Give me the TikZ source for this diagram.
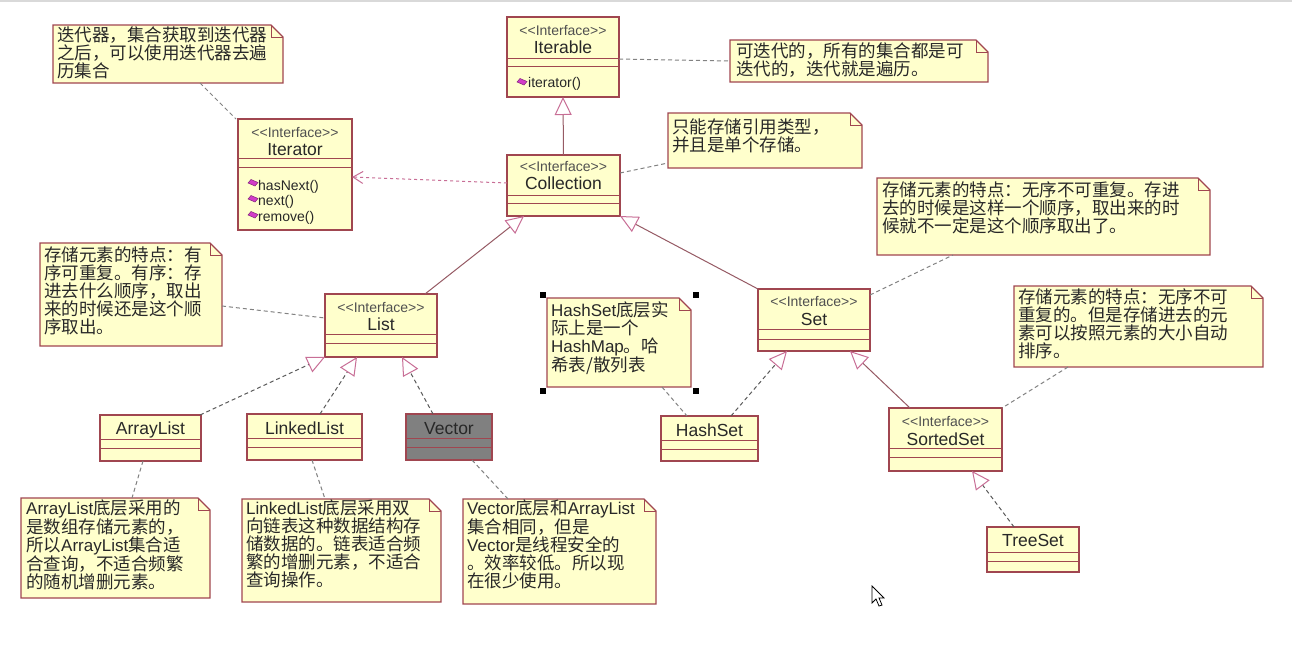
\documentclass[tikz,border=0pt]{standalone}
\usepackage{fontspec}
\setmainfont{Liberation Sans}
\newfontfamily\cjkf{Noto Sans CJK SC}
\usetikzlibrary{arrows.meta,fit,calc}
\definecolor{boxfill}{RGB}{255,255,204}
\definecolor{boxline}{RGB}{160,70,80}
\definecolor{genline}{RGB}{150,90,100}
\definecolor{tipcol}{RGB}{200,110,150}
\definecolor{realline}{RGB}{90,90,90}
\definecolor{noteline}{RGB}{130,130,130}
\definecolor{txt}{RGB}{40,40,40}
\definecolor{stereocol}{RGB}{80,80,80}
\definecolor{vecfill}{RGB}{128,128,128}
\definecolor{opiconcol}{RGB}{210,60,200}
\newcommand\latn[1]{{\rmfamily\fontsize{17}{18}\selectfont #1}}
\newcommand\fstrut{\rule{0pt}{16pt}}
\newcommand\stereotxt{<\kern0pt<Interface>\kern0pt>}
\tikzset{
  cls/.style={draw=boxline, fill=boxfill, line width=1.2pt, inner sep=0pt, outer sep=0pt, anchor=north west},
  sepline/.style={draw=boxline, line width=1pt},
  stereo/.style={font=\fontsize{14}{14}\selectfont, text=stereocol, anchor=base, inner sep=0pt},
  cname/.style={font=\fontsize{17.5}{18}\selectfont, text=txt, anchor=base, inner sep=0pt},
  optext/.style={font=\fontsize{14}{14}\selectfont, text=txt, anchor=base west, inner sep=0pt},
  notetext/.style={font=\cjkf\fontsize{17.5}{18}\selectfont, text=txt, align=left, anchor=north west, inner sep=0pt},
  noteshape/.style={draw=boxline, fill=boxfill, line width=1.1pt},
  notelink/.style={draw=noteline, line width=1pt, dash pattern=on 4pt off 3pt},
  gen/.style={draw=genline, line width=1pt, -{Triangle[open, length=18pt, width=17pt, color=tipcol, line width=1pt]}},
  real/.style={draw=realline, line width=1pt, dash pattern=on 4pt off 3pt, -{Triangle[open, length=18pt, width=17pt, color=tipcol, line width=1pt]}},
  dep/.style={draw=tipcol, line width=1pt, dash pattern=on 3pt off 3pt, -{Straight Barb[length=10pt, width=12pt]}},
}
\newcommand\umlbox[6][boxfill]{%
  \node[cls, fill=#1, minimum width=#5pt, minimum height=#6pt] (#2) at (#3,#4) {};}
\newcommand\seps[3]{%
  \draw[sepline] ([yshift=-#2pt]#1.north west) -- ([yshift=-#2pt]#1.north east);
  \draw[sepline] ([yshift=-#3pt]#1.north west) -- ([yshift=-#3pt]#1.north east);}
\newcommand\umlnote[5]{%
  \node[fit={(#2,#3) (#4,#5)}, inner sep=0pt, outer sep=0pt] (#1) {};
  \path[noteshape] (#1.north west) -- ([xshift=-12pt]#1.north east) -- ([yshift=-12pt]#1.north east) -- (#1.south east) -- (#1.south west) -- cycle;
  \draw[draw=boxline, line width=1pt] ([xshift=-12pt]#1.north east) -- ([xshift=-12pt,yshift=-12pt]#1.north east) -- ([yshift=-12pt]#1.north east);}
\newcommand\opicon[2]{%
  \filldraw[fill=opiconcol, draw=opiconcol!60!black, line width=0.5pt] (#1,#2) -- ++(3,-3.5) -- ++(7,3) -- ++(-3,3.5) -- cycle;}
\begin{document}
\begin{tikzpicture}[x=1pt, y=-1pt]
\useasboundingbox (0,0) rectangle (1292,646);
\fill[white] (0,0) rectangle (1292,646);
\draw[black!15, line width=1.5pt] (0,1) -- (1292,1);

% ---------- notes ----------
\umlnote{iternote}{53}{25}{283}{83}
\node[notetext] (iternote-t) at (57,25) {\fstrut 迭代器，集合获取到迭代器\\之后，可以使用迭代器去遍\\历集合};
\umlnote{iterablenote}{730}{40}{988}{82}
\node[notetext] (iterablenote-t) at (736,41) {\fstrut 可迭代的，所有的集合都是可\\迭代的，迭代就是遍历。};
\umlnote{collnote}{668}{113}{862}{168}
\node[notetext] (collnote-t) at (672,117) {\fstrut 只能存储引用类型，\\并且是单个存储。};
\umlnote{listnote}{40}{243}{222}{346}
\node[notetext] (listnote-t) at (44,245) {\fstrut 存储元素的特点：有\\序可重复。有序：存\\进去什么顺序，取出\\来的时候还是这个顺\\序取出。};
\umlnote{setnote}{877}{178}{1210}{255}
\node[notetext] (setnote-t) at (882,180) {\fstrut 存储元素的特点：无序不可重复。存进\\去的时候是这样一个顺序，取出来的时\\候就不一定是这个顺序取出了。};
\umlnote{sortednote}{1014}{286}{1263}{367}
\node[notetext] (sortednote-t) at (1018,287) {\fstrut 存储元素的特点：无序不可\\重复的。但是存储进去的元\\素可以按照元素的大小自动\\排序。};
\umlnote{hashnote}{547}{298}{691}{387}
\node[notetext] (hashnote-t) at (551,300) {\fstrut\latn{HashSet}底层实\\际上是一个\\\latn{HashMap}。哈\\希表/散列表};
\umlnote{arraynote}{21}{498}{210}{598}
\node[notetext] (arraynote-t) at (26,498) {\fstrut\latn{ArrayList}底层采用的\\是数组存储元素的，\\所以\latn{ArrayList}集合适\\合查询，不适合频繁\\的随机增删元素。};
\umlnote{linkednote}{242}{499}{441}{602}
\node[notetext] (linkednote-t) at (246,498) {\fstrut\latn{LinkedList}底层采用双\\向链表这种数据结构存\\储数据的。链表适合频\\繁的增删元素，不适合\\查询操作。};
\umlnote{vectornote}{463}{499}{656}{604}
\node[notetext] (vectornote-t) at (467,498) {\fstrut\latn{Vector}底层和\latn{ArrayList}\\集合相同，但是\\\latn{Vector}是线程安全的\\。效率较低。所以现\\在很少使用。};

% selection handles
\fill[black] (540,292) rectangle (546,298);
\fill[black] (693,292) rectangle (699,298);
\fill[black] (540,388) rectangle (546,394);
\fill[black] (693,388) rectangle (699,394);

% ---------- classes ----------
\umlbox{iterable}{507}{17}{112}{80}
\seps{iterable}{41}{49}
\node[stereo] (iterable-st) at (563,35) {\stereotxt};
\node[cname] (iterable-n) at (563,53) {Iterable};
\opicon{517}{82}
\node[optext] (iterable-o1) at (528,87) {iterator()};

\umlbox{iterator}{238}{119}{114}{111}
\seps{iterator}{39}{48}
\node[stereo] (iterator-st) at (295,137.5) {\stereotxt};
\node[cname] (iterator-n) at (295,155) {Iterator};
\opicon{248}{183}
\node[optext] (iterator-o1) at (258,190) {hasNext()};
\opicon{248}{199}
\node[optext] (iterator-o2) at (258,205.5) {next()};
\opicon{248}{215}
\node[optext] (iterator-o3) at (258,221) {remove()};

\umlbox{collection}{507}{155}{113}{61}
\seps{collection}{40}{48.5}
\node[stereo] (collection-st) at (563.5,171) {\stereotxt};
\node[cname] (collection-n) at (563.5,189) {Collection};

\umlbox{list}{325}{294}{112}{63}
\seps{list}{40}{49}
\node[stereo] (list-st) at (381,312) {\stereotxt};
\node[cname] (list-n) at (381,330) {List};

\umlbox{set}{758}{289}{112}{62}
\seps{set}{40}{50}
\node[stereo] (set-st) at (814,306) {\stereotxt};
\node[cname] (set-n) at (814,325) {Set};

\umlbox{sortedset}{889}{408}{113}{63}
\seps{sortedset}{40}{49}
\node[stereo] (sortedset-st) at (945.5,426) {\stereotxt};
\node[cname] (sortedset-n) at (945.5,445) {SortedSet};

\umlbox{arraylist}{100}{415}{101}{46}
\seps{arraylist}{24}{33}
\node[cname] (arraylist-n) at (150.5,434) {ArrayList};

\umlbox{linkedlist}{247}{414}{115}{46}
\seps{linkedlist}{24}{33}
\node[cname] (linkedlist-n) at (304.5,434) {LinkedList};

\umlbox[vecfill]{vector}{406}{414}{86}{46}
\seps{vector}{24}{33}
\node[cname] (vector-n) at (449,434) {Vector};

\umlbox{hashset}{661}{416}{97}{45}
\seps{hashset}{24}{33}
\node[cname] (hashset-n) at (709.5,436) {HashSet};

\umlbox{treeset}{987}{527}{92}{45}
\seps{treeset}{25}{34}
\node[cname] (treeset-n) at (1033,546) {TreeSet};

% ---------- relations ----------
\draw[gen] (collection.north) -- (iterable.south);
\draw[gen] ([xshift=100pt]list.north west) -- ([xshift=17pt]collection.south west);
\draw[gen] (set.north west) -- (collection.south east);
\draw[gen] ([xshift=21pt]sortedset.north west) -- ([xshift=92pt]set.south west);
\draw[real] ([xshift=70pt]hashset.north west) -- ([xshift=29pt]set.south west);
\draw[real] ([xshift=27pt]treeset.north west) -- ([xshift=83pt]sortedset.south west);
\draw[real] ([xshift=-1pt]arraylist.north east) -- (list.south west);
\draw[real] ([xshift=73pt]linkedlist.north west) -- ([xshift=32pt]list.south west);
\draw[real] ([xshift=27pt]vector.north west) -- ([xshift=77pt]list.south west);
\draw[dep] ([yshift=-28pt]collection.north west) -- ([yshift=-58pt]iterator.north east);

% ---------- note links ----------
\draw[notelink] ([xshift=147pt]iternote.south west) -- ([xshift=-2pt]iterator.north west);
\draw[notelink] ([yshift=-42pt]iterable.north east) -- (iterablenote.west);
\draw[notelink] ([yshift=-18pt]collection.north east) -- ([yshift=-50pt]collnote.north west);
\draw[notelink] ([yshift=-63pt]listnote.north east) -- ([yshift=-24pt]list.north west);
\draw[notelink] ([yshift=-6pt]set.north east) -- ([xshift=76pt]setnote.south west);
\draw[notelink] ([xshift=54pt]sortednote.south west) -- (sortedset.north east);
\draw[notelink] ([xshift=115pt]hashnote.south west) -- ([xshift=26pt]hashset.north west);
\draw[notelink] ([xshift=43pt]arraylist.south west) -- ([xshift=111pt]arraynote.north west);
\draw[notelink] ([xshift=65pt]linkedlist.south west) -- ([xshift=83pt]linkednote.north west);
\draw[notelink] ([xshift=66pt]vector.south west) -- ([xshift=45pt]vectornote.north west);

% mouse pointer
\filldraw[fill=white, draw=black, line width=0.8pt] (872,586) -- (872,603) -- (876,599) -- (879,606) -- (882,605) -- (879,598) -- (884,598) -- cycle;
\end{tikzpicture}
\end{document}
